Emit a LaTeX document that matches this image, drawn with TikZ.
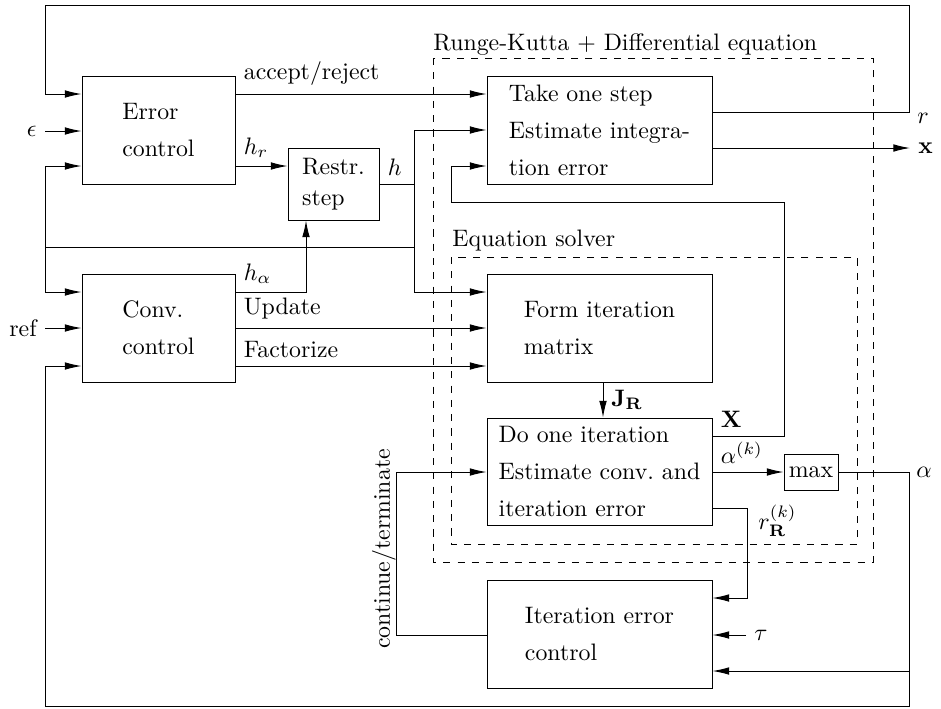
\documentclass[tikz,border=0pt]{standalone}
\usetikzlibrary{arrows.meta}

\newcommand\pxu{0.42pt}
\tikzset{
  blk/.style 2 args={draw, align=left, minimum width=#1*\pxu, minimum height=#2*\pxu, inner sep=0pt},
  arr/.style={-{Latex[length=7pt,width=3.2pt]}},
}

\begin{document}
\begin{tikzpicture}[x=\pxu,y=-\pxu]

		\useasboundingbox (0,0) rectangle (941,708);
		
		% blocks
		\node[blk={153}{108}] (err) at (158.5,130) {Error\\[3.5pt]control};
		\node[blk={91}{72}] (restr) at (333.5,184) {Restr.\\[1pt]step};
		\node[blk={153}{108}] (conv) at (158.5,328) {Conv.\\[3.5pt]control};
		\node[blk={225}{108}] (take) at (599.5,130) {Take one step\\[3.5pt]Estimate integra-\\[3.5pt]tion error};
		\node[blk={225}{108}] (form) at (599.5,328) {Form iteration\\[3.5pt]matrix};
		\node[blk={225}{107}] (iter) at (599.5,471.5) {Do one iteration\\[3.5pt]Estimate conv.\ and\\[3.5pt]iteration error};
		\node[blk={54}{36}] (maxb) at (811,472) {max};
		\node[blk={225}{108}] (ctrl) at (599.5,634) {Iteration error\\[3.5pt]control};
		
		% dashed groups
		\draw [dashed] (433,58) rectangle (873,562);
		\node[anchor=base west, inner sep=0pt] (rkl) at (433,50) {Runge-Kutta $+$ Differential equation};
		\draw [dashed] (451,257) rectangle (857,544);
		\node[anchor=base west, inner sep=0pt] (esl) at (452,246) {Equation solver};
		
		% inputs and outputs
		\node[left] (eps) at (45,131) {$\epsilon$};
		\node[left] (ref) at (45,328) {ref};
		\node[right] (tau) at (746,635) {$\tau$};
		\node[right] (xo) at (910,148) {$\mathbf{x}$};
		\node[right] (ro) at (909,118) {$r$};
		\node[right] (al) at (908,472) {$\alpha$};
		
		
		\draw [arr] (err.east |- 0,94) -- (take.west |- 0,94) node[pos=0, above right] (accl) {accept/reject};
		\draw [arr] (eps) -- (err.west |- eps);
		\draw [arr] (err.east |- 0,166) -- (restr.west |- 0,166) node[pos=0, above right] (hrl) {$h_r$};
		
		\draw [arr] (restr.east) node[above right] (hl) {$h$} -| (414,130) -- (take.west |- 0,130);
		\draw [arr] (414,184) |- (form.west |- 0,292);
		\draw [arr] (414,247) -| (45,166) -- (err.west |- 0,166);
		\draw [arr] (45,247) |- (conv.west |- 0,292);
		
		\draw [arr] (take.east |- 0,112) -| (909,5) -| (45,94) -- (err.west |- 0,94);
		\draw [arr] (take.east |- xo) -- (xo);
		
		\draw [arr] (conv.east |- 0,292) node[above right] (hal) {$h_\alpha$} -| (restr.south -| 306,0);
		\draw [arr] (ref) -- (conv.west |- ref);
		\draw [arr] (conv.east |- 0,328) -- (form.west |- 0,328) node[pos=0, above right] (upd) {Update};
		\draw [arr] (conv.east |- 0,366) -- (form.west |- 0,366) node[pos=0, above right] (fac) {Factorize};
		
		% equation solver
		\draw [arr] (form.south -| 603,0) -- (iter.north -| 603,0) node[midway, right] (jr) {$\mathbf{J}_{\mathbf{R}}$};
		\draw [arr] (iter.east |- 0,436) node[above right] (xl) {$\mathbf{X}$} -| (784,202) -| (451,166) -- (take.west |- 0,166);
		\draw [arr] (iter.east |- maxb) -- (maxb) node[pos=0, above right] (akl) {$\alpha^{(k)}$};
		\draw [arr] (iter.east |- 0,508) -| (747,598) -- (ctrl.east |- 0,598);
		\node[anchor=west] (rrl) at (750,521) {$r_{\mathbf{R}}^{(k)}$};
		\draw [arr] (tau) -- (ctrl.east |- tau);
		
		\draw [arr] (maxb) -| (909,706) -| (45,366) -- (conv.west |- 0,366);
		\draw [arr] (909,671) -- (ctrl.east |- 0,671);
		\draw [arr] (ctrl.west |- tau) -| (396,472) -- (iter.west |- 0,472);
		\node[rotate=90] (ctl) at (384,549) {continue/terminate};
		
\end{tikzpicture}
\end{document}
